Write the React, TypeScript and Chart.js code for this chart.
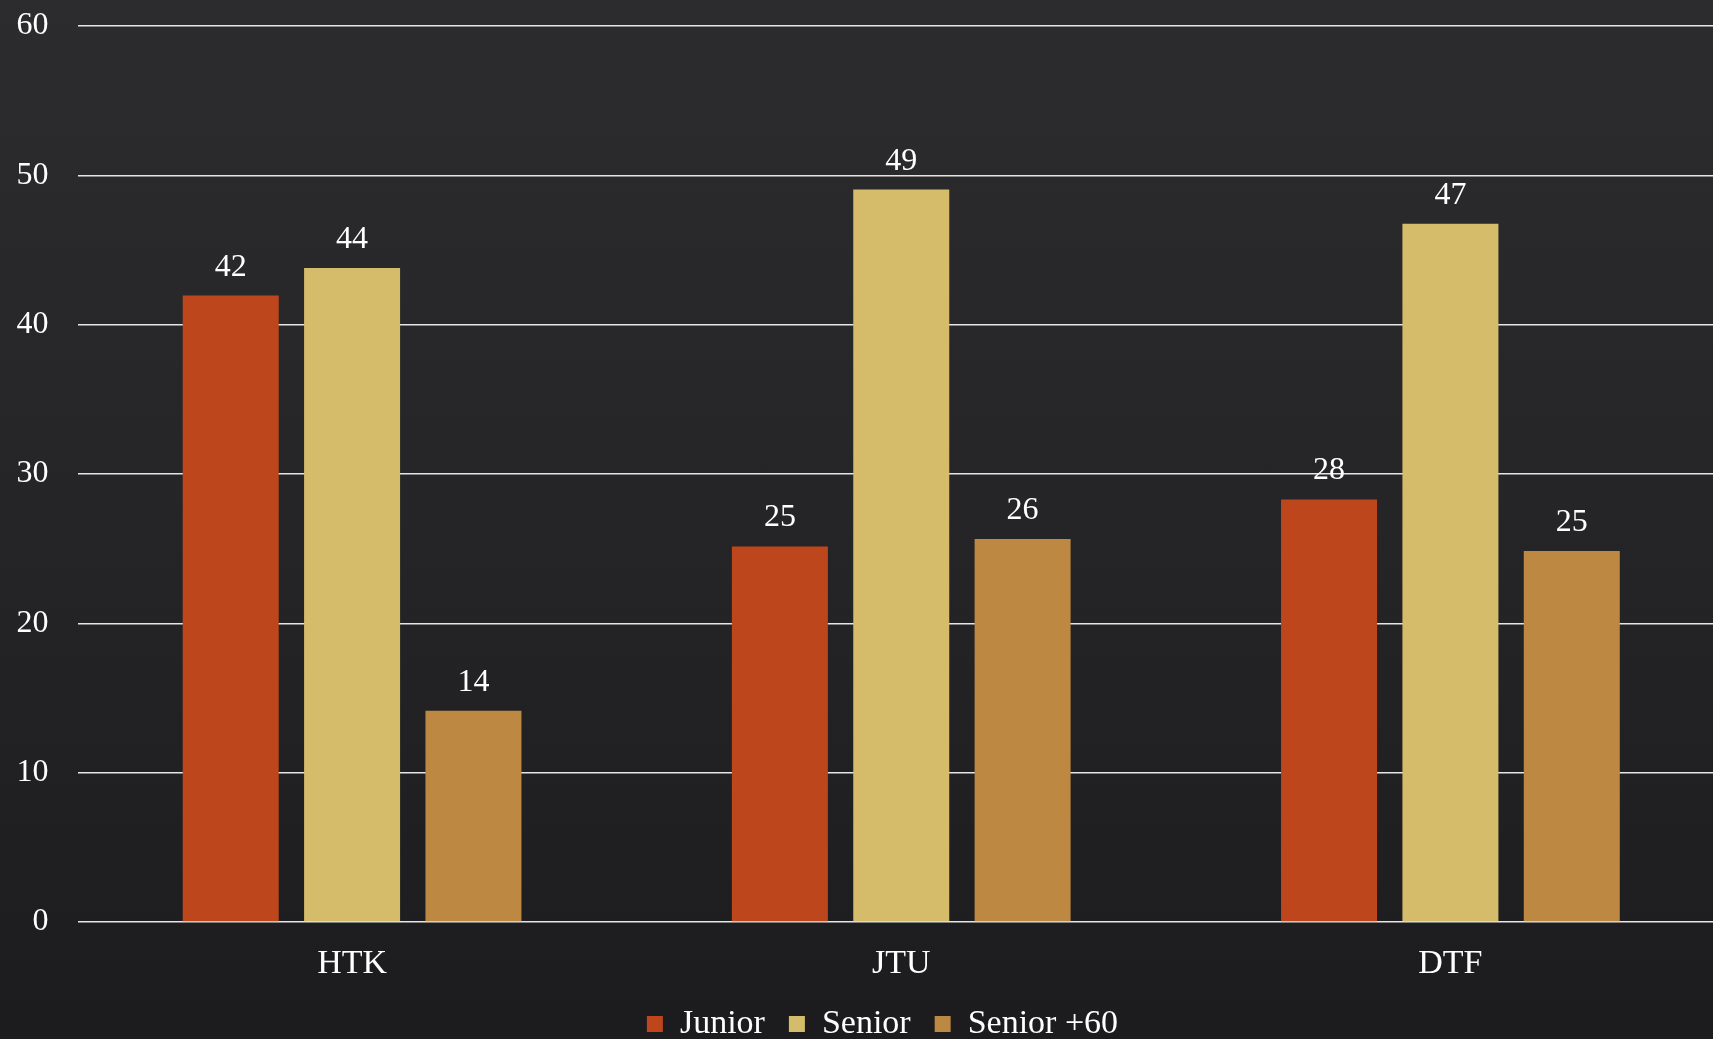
import React, { useEffect, useRef } from "react";
import { Chart, registerables } from "chart.js";

Chart.register(...registerables);

const categories = ["HTK", "JTU", "DTF"];
const juniorValues = [41.95, 25.15, 28.3];
const seniorValues = [43.8, 49.05, 46.75];
const senior60Values = [14.15, 25.65, 24.85];
const seriesNames = ["Junior", "Senior", "Senior +60"];
const yTicks = [0, 10, 20, 30, 40, 50, 60];

const FONT = "'Liberation Serif', 'Times New Roman', serif";

const valueLabelPlugin = {
  id: "valueLabels",
  afterDatasetsDraw(chart: any) {
    const ctx = chart.ctx;
    ctx.save();
    ctx.font = `32px ${FONT}`;
    ctx.fillStyle = "#ffffff";
    ctx.textAlign = "center";
    ctx.textBaseline = "alphabetic";
    chart.data.datasets.forEach((ds: any, i: number) => {
      const meta = chart.getDatasetMeta(i);
      meta.data.forEach((bar: any, j: number) => {
        const v = ds.data[j];
        ctx.fillText(String(Math.round(v)), bar.x, bar.y - 20);
      });
    });
    ctx.restore();
  },
};

// nudges the centred legend row slightly to the right, as in the reference
const legendShiftPlugin = {
  id: "legendShift",
  afterLayout(chart: any) {
    if (chart.legend) chart.legend.left += 40;
  },
};

export default function App() {
  const ref = useRef<HTMLCanvasElement | null>(null);

  useEffect(() => {
    document.body.style.margin = "0";
    const canvas = ref.current;
    if (!canvas) return;
    const chart = new Chart(canvas, {
      type: "bar",
      data: {
        labels: categories,
        datasets: [
          { label: seriesNames[0], data: juniorValues, backgroundColor: "#BD461C" },
          { label: seriesNames[1], data: seniorValues, backgroundColor: "#D4BC6A" },
          { label: seriesNames[2], data: senior60Values, backgroundColor: "#BC8842" },
        ],
      },
      options: {
        responsive: false,
        animation: false,
        devicePixelRatio: 1,
        layout: { padding: { top: 26, left: 0, right: 0, bottom: 0 } },
        datasets: {
          bar: { categoryPercentage: 0.663, barPercentage: 0.791 },
        },
        plugins: {
          tooltip: { enabled: false },
          legend: {
            position: "bottom",
            labels: {
              color: "#ffffff",
              font: { family: FONT, size: 34 },
              boxWidth: 16,
              boxHeight: 16,
              padding: 24,
            },
          },
        },
        scales: {
          x: {
            grid: { display: false, drawTicks: false },
            border: { display: false },
            ticks: {
              color: "#ffffff",
              font: { family: FONT, size: 34 },
              padding: 22,
            },
            afterFit: (scale: any) => {
              scale.height = 61;
              scale.paddingLeft = 0;
              scale.paddingRight = 0;
            },
          },
          y: {
            min: 0,
            max: 60,
            afterBuildTicks: (scale: any) => {
              scale.ticks = yTicks.map((v) => ({ value: v }));
            },
            grid: { color: "#e6e6e6", lineWidth: 1.6, drawTicks: false },
            border: { display: false },
            ticks: {
              color: "#ffffff",
              font: { family: FONT, size: 32 },
              padding: 29,
            },
            afterFit: (scale: any) => {
              scale.width = 77.5;
              scale.paddingTop = 0;
              scale.paddingBottom = 0;
            },
          },
        },
      },
      plugins: [valueLabelPlugin, legendShiftPlugin],
    });
    return () => chart.destroy();
  }, []);

  return (
    <div
      style={{
        position: "fixed",
        left: 0,
        top: 0,
        width: 1713,
        height: 1039,
        overflow: "hidden",
        background: "linear-gradient(180deg, #2c2c2e 0%, #252527 50%, #1c1c1e 100%)",
      }}
    >
      <canvas
        ref={ref}
        width={1725}
        height={1051}
        style={{ position: "absolute", left: 0, top: 0, width: 1725, height: 1051 }}
      />
    </div>
  );
}
